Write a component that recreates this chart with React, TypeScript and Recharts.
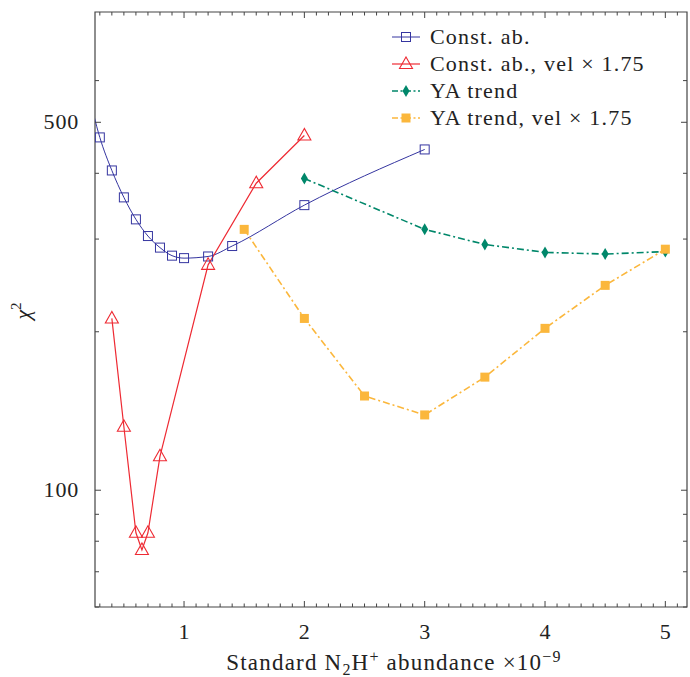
import React from "react";
import {
  LineChart,
  Line,
  XAxis,
  YAxis,
  Legend,
  Label,
  ReferenceArea,
} from "recharts";

// x = standard N2H+ abundance (x 1e-9), y = chi^2
const constAbX = [0.2, 0.3, 0.4, 0.5, 0.6, 0.7, 0.8, 0.9, 1.0, 1.2, 1.4, 2.0, 3.0];
const constAbChi2 = [575, 468, 405, 360, 327, 304, 289, 279, 276, 278, 291, 348, 444];

const constAbVelX = [0.4, 0.5, 0.6, 0.65, 0.7, 0.8, 1.2, 1.6, 2.0];
const constAbVelChi2 = [212, 132, 83, 77, 83, 116, 268, 383, 472];

const yaTrendX = [2, 3, 3.5, 4, 4.5, 5];
const yaTrendChi2 = [391, 313, 293, 283, 281, 284];

const yaTrendVelX = [1.5, 2, 2.5, 3, 3.5, 4, 4.5, 5];
const yaTrendVelChi2 = [313, 212, 151, 139, 164, 203, 245, 287];

const xMajorTicks = [1, 2, 3, 4, 5];
const yMajorTicks = [100, 500];
const yMinorTicks = [60, 70, 80, 90, 200, 300, 400, 600];

const X_DOMAIN: [number, number] = [0.26, 5.18];
const Y_DOMAIN: [number, number] = [60, 810];

// plot box (page px)
const PLOT = { left: 95, top: 12, right: 687, bottom: 607 };

const xMinorTicks = Array.from({ length: 49 }, (_, i) => Math.round((0.3 + i * 0.1) * 10) / 10).filter(
  (v) => !xMajorTicks.includes(v)
);

const zip = (xs: number[], ys: number[]) => xs.map((x, i) => ({ x, y: ys[i] }));

const BLUE = "#3535a0";
const RED = "#ee2a33";
const GREEN = "#00876a";
const ORANGE = "#fbb73c";
const AXIS = "#444";
const TEXT = "#222";
const FONT = "'Liberation Serif', 'DejaVu Serif', serif";
const FS = 22;
const LS = 1.2;
const DASHDOT = "7 3 2 3";

const squareOpen = (cx: number, cy: number, color: string) => (
  <rect x={cx - 4.5} y={cy - 4.5} width={9} height={9} fill="none" stroke={color} strokeWidth={1} />
);
const triangleOpen = (cx: number, cy: number, color: string) => (
  <polygon
    points={`${cx},${cy - 7} ${cx - 6.5},${cy + 4.5} ${cx + 6.5},${cy + 4.5}`}
    fill="none"
    stroke={color}
    strokeWidth={1.1}
  />
);
const diamond = (cx: number, cy: number, color: string) => (
  <polygon points={`${cx},${cy - 6} ${cx + 3.5},${cy} ${cx},${cy + 6} ${cx - 3.5},${cy}`} fill={color} />
);
const squareFilled = (cx: number, cy: number, color: string) => (
  <rect x={cx - 4.5} y={cy - 4.5} width={9} height={9} fill={color} />
);

const series = [
  { name: "Const. ab.", data: zip(constAbX, constAbChi2), color: BLUE, marker: squareOpen, dash: undefined, width: 1, type: "monotone" },
  { name: "Const. ab., vel \u00d7 1.75", data: zip(constAbVelX, constAbVelChi2), color: RED, marker: triangleOpen, dash: undefined, width: 1.2, type: "linear" },
  { name: "YA trend", data: zip(yaTrendX, yaTrendChi2), color: GREEN, marker: diamond, dash: DASHDOT, width: 1.6, type: "linear" },
  { name: "YA trend, vel \u00d7 1.75", data: zip(yaTrendVelX, yaTrendVelChi2), color: ORANGE, marker: squareFilled, dash: DASHDOT, width: 1.6, type: "linear" },
];

const XTick = (props: any) => {
  const { x, payload } = props;
  const v = payload.value;
  const major = xMajorTicks.includes(v);
  const len = major ? 6 : 3.5;
  return (
    <g>
      <line x1={x} x2={x} y1={PLOT.bottom} y2={PLOT.bottom - len} stroke={AXIS} strokeWidth={1} />
      <line x1={x} x2={x} y1={PLOT.top} y2={PLOT.top + len} stroke={AXIS} strokeWidth={1} />
      {major && (
        <text x={x} y={639} textAnchor="middle" fontFamily={FONT} fontSize={FS} fill={TEXT}>
          {v}
        </text>
      )}
    </g>
  );
};

const YTick = (props: any) => {
  const { y, payload } = props;
  const v = payload.value;
  const major = yMajorTicks.includes(v);
  const len = major ? 6 : 4;
  return (
    <g>
      <line x1={PLOT.left} x2={PLOT.left + len} y1={y} y2={y} stroke={AXIS} strokeWidth={1} />
      <line x1={PLOT.right} x2={PLOT.right - len} y1={y} y2={y} stroke={AXIS} strokeWidth={1} />
      {major && (
        <text x={79} y={y + 7} textAnchor="end" fontFamily={FONT} fontSize={FS} letterSpacing={0.8} fill={TEXT}>
          {v}
        </text>
      )}
    </g>
  );
};

const XLabel = () => (
  <text x={394} y={670} textAnchor="middle" fontFamily={FONT} fontSize={23} letterSpacing={LS} fill={TEXT}>
    Standard N
    <tspan fontSize={16} dy={5}>2</tspan>
    <tspan dy={-5}>H</tspan>
    <tspan fontSize={16} dy={-8}>+</tspan>
    <tspan dy={8}>{" abundance \u00d710"}</tspan>
    <tspan fontSize={16} dy={-8}>{"\u22129"}</tspan>
  </text>
);

const YLabel = () => (
  <text
    x={30}
    y={311}
    transform="rotate(-90, 30, 311)"
    textAnchor="middle"
    fontFamily={FONT}
    fontSize={FS}
    fill={TEXT}
  >
    <tspan fontStyle="italic">{"\u03c7"}</tspan>
    <tspan fontSize={15} dy={-9}>2</tspan>
  </text>
);

const renderLegend = () => (
  <div style={{ fontFamily: FONT, fontSize: FS, letterSpacing: LS, color: TEXT }}>
    {series.map((s) => (
      <div key={s.name} style={{ display: "flex", alignItems: "center", height: 27, whiteSpace: "nowrap" }}>
        <svg width={30} height={16} style={{ marginRight: 9 }}>
          <line x1={1} x2={29} y1={8} y2={8} stroke={s.color} strokeWidth={s.width} strokeDasharray={s.dash ? "6 2.5 2 2.5" : undefined} />
          {s.marker(15, 8, s.color)}
        </svg>
        <span>{s.name}</span>
      </div>
    ))}
  </div>
);

export default function App() {
  return (
    <div style={{ position: "absolute", left: 0, top: 0, width: 690, height: 677, background: "#fff" }}>
      <LineChart width={690} height={677} margin={{ top: 12, right: 3, bottom: 0, left: 0 }}>
        <XAxis
          dataKey="x"
          type="number"
          domain={X_DOMAIN}
          allowDataOverflow
          ticks={[...xMinorTicks, ...xMajorTicks]}
          tick={<XTick />}
          tickLine={false}
          axisLine={false}
          height={70}
          interval={0}
        >
          <Label content={<XLabel />} />
        </XAxis>
        <YAxis
          dataKey="y"
          type="number"
          scale="log"
          domain={Y_DOMAIN}
          allowDataOverflow
          ticks={[...yMinorTicks, ...yMajorTicks]}
          tick={<YTick />}
          tickLine={false}
          axisLine={false}
          width={95}
          interval={0}
        >
          <Label content={<YLabel />} />
        </YAxis>
        <ReferenceArea
          x1={X_DOMAIN[0]}
          x2={X_DOMAIN[1]}
          y1={Y_DOMAIN[0]}
          y2={Y_DOMAIN[1]}
          fill="none"
          stroke={AXIS}
          strokeWidth={1.2}
          ifOverflow="visible"
        />
        {series.map((s) => (
          <Line
            key={s.name}
            data={s.data}
            dataKey="y"
            name={s.name}
            type={s.type as any}
            stroke={s.color}
            strokeWidth={s.width}
            strokeDasharray={s.dash}
            dot={(p: any) => <g key={`${s.name}-${p.index}`}>{s.marker(p.cx, p.cy, s.color)}</g>}
            activeDot={false}
            isAnimationActive={false}
          />
        ))}
        <Legend
          layout="horizontal"
          verticalAlign="middle"
          align="center"
          content={renderLegend}
          wrapperStyle={{ position: "absolute", top: 23, left: 391, width: 298, height: 110 }}
        />
      </LineChart>
    </div>
  );
}
